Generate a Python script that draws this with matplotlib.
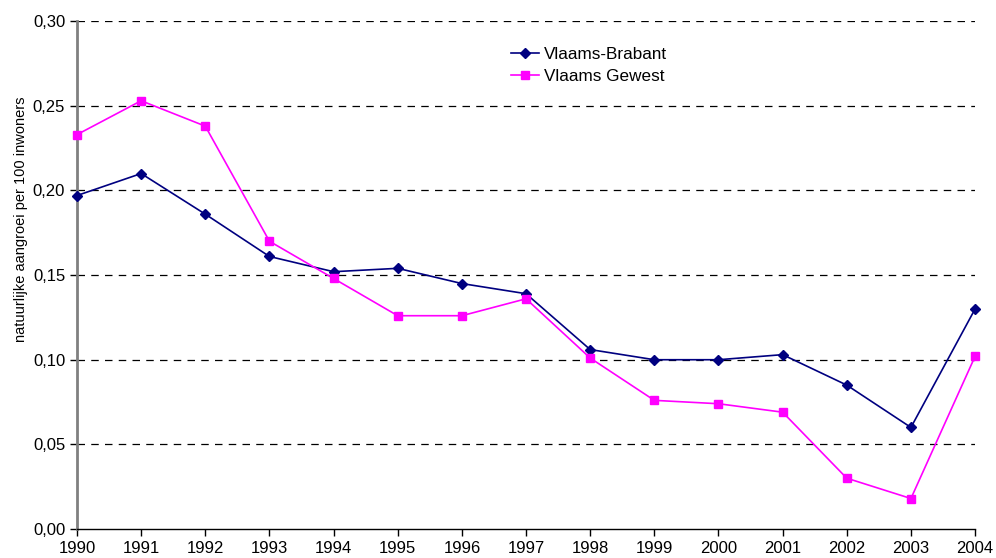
import matplotlib
matplotlib.use("Agg")
from matplotlib import pyplot as plt
from matplotlib.ticker import FuncFormatter

plt.rcParams['font.family'] = ['Liberation Sans', 'DejaVu Sans']

years = list(range(1990, 2005))
brabant = [0.197, 0.210, 0.186, 0.161, 0.152, 0.154, 0.145, 0.139, 0.106,
           0.100, 0.100, 0.103, 0.085, 0.060, 0.130]
gewest = [0.233, 0.253, 0.238, 0.170, 0.148, 0.126, 0.126, 0.136, 0.101,
          0.076, 0.074, 0.069, 0.030, 0.018, 0.102]
yticks = [0.00, 0.05, 0.10, 0.15, 0.20, 0.25, 0.30]

fig = plt.figure(figsize=(9.96, 5.58), dpi=100)
ax = fig.add_axes([0.0773, 0.052, 0.9017, 0.910])

ax.plot(years, brabant, color='#000080', marker='D', markersize=5, lw=1.2,
        label='Vlaams-Brabant', clip_on=False, zorder=3)
ax.plot(years, gewest, color='#ff00ff', marker='s', markersize=6, lw=1.2,
        label='Vlaams Gewest', clip_on=False, zorder=3)

ax.set_xlim(1990, 2004)
ax.set_ylim(0, 0.30)
ax.set_xticks(years)
ax.set_yticks(yticks)
ax.yaxis.set_major_formatter(FuncFormatter(lambda v, p: f"{v:.2f}".replace('.', ',')))
ax.tick_params(labelsize=12, length=5, width=1)
ax.tick_params(axis='x', pad=4)

for y in yticks[1:]:
    ax.axhline(y, color='black', lw=0.9, ls=(0, (6, 5)), zorder=1)

ax.spines['top'].set_visible(False)
ax.spines['right'].set_visible(False)
ax.spines['left'].set_color('#808080')
ax.spines['left'].set_linewidth(2)
ax.spines['bottom'].set_linewidth(1)

ax.set_ylabel('natuurlijke aangroei per 100 inwoners', fontsize=10.5)
ax.yaxis.set_label_coords(-0.055, 0.61)

ax.legend(loc='upper left', bbox_to_anchor=(0.466, 0.98), frameon=False, fontsize=12.3,
          handlelength=1.65, handletextpad=0.3, labelspacing=0.45)

plt.savefig('out.png', dpi=100)
